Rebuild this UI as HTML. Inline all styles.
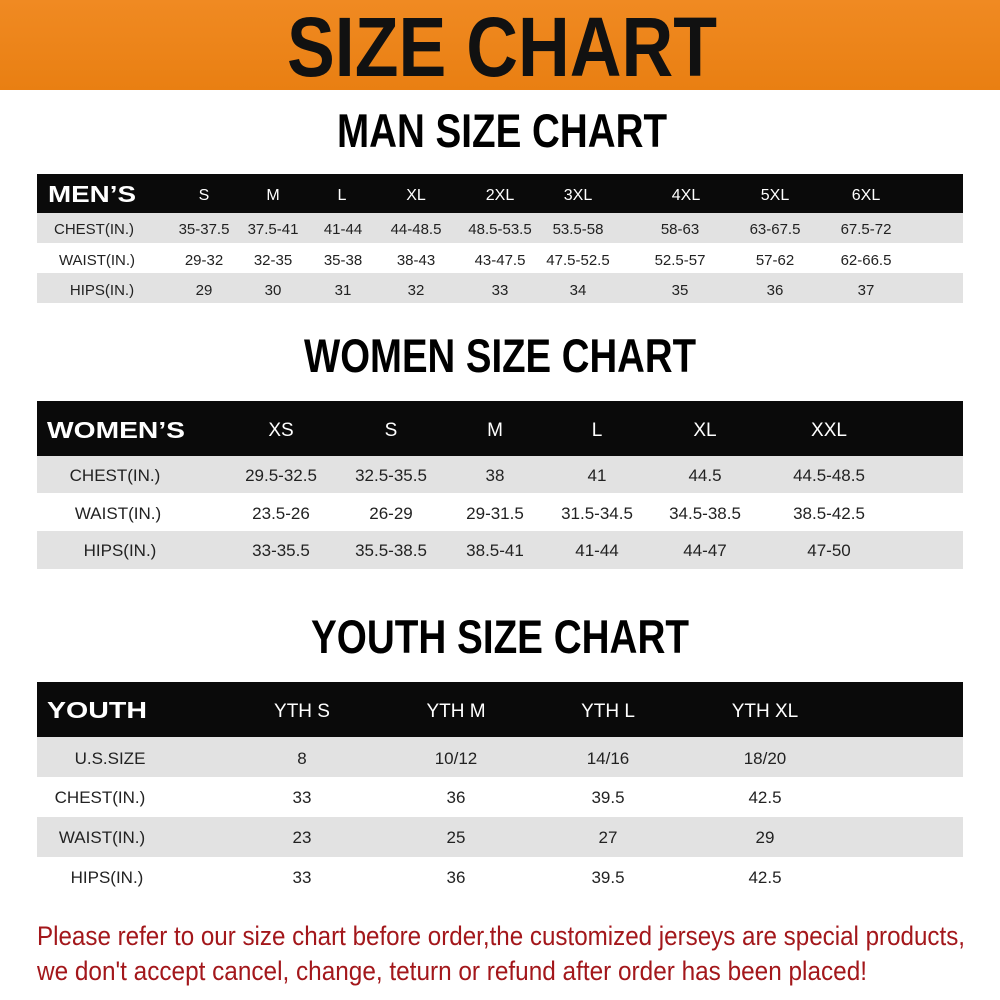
<!DOCTYPE html>
<html><head><meta charset="utf-8"><style>
html,body{margin:0;padding:0;background:#fff;}
svg{display:block;}
text{font-family:"Liberation Sans",sans-serif;}
</style></head><body>
<svg width="1000" height="1000" viewBox="0 0 1000 1000" xmlns="http://www.w3.org/2000/svg">
<defs><linearGradient id="og" x1="0" y1="0" x2="0" y2="1"><stop offset="0" stop-color="#f08a22"/><stop offset="1" stop-color="#e97f12"/></linearGradient></defs>
<rect x="0" y="0" width="1000" height="90" fill="url(#og)"/>
<text x="502" y="76" font-size="84" font-weight="bold" text-anchor="middle" textLength="430" lengthAdjust="spacingAndGlyphs" fill="#111">SIZE CHART</text>
<text x="502" y="147" font-size="47" font-weight="bold" text-anchor="middle" textLength="330" lengthAdjust="spacingAndGlyphs" fill="#000">MAN SIZE CHART</text>

<!-- Men -->
<rect x="37" y="174" width="926" height="39" fill="#0a0a0a"/>
<rect x="37" y="213" width="926" height="30" fill="#e2e2e2"/>
<rect x="37" y="273" width="926" height="30" fill="#e2e2e2"/>
<g font-size="15" fill="#222" text-anchor="middle">
<text x="92" y="202" font-size="23" font-weight="bold" fill="#fff" textLength="88" lengthAdjust="spacingAndGlyphs">MEN’S</text>
<g fill="#fff" font-size="16">
<text x="204" y="200">S</text><text x="273" y="200">M</text><text x="342" y="200">L</text><text x="416" y="200">XL</text><text x="500" y="200">2XL</text><text x="578" y="200">3XL</text><text x="686" y="200">4XL</text><text x="775" y="200">5XL</text><text x="866" y="200">6XL</text>
</g>
<text x="94" y="234">CHEST(IN.)</text><text x="97" y="265">WAIST(IN.)</text><text x="102" y="295">HIPS(IN.)</text>
<text x="204" y="234">35-37.5</text><text x="273" y="234">37.5-41</text><text x="343" y="234">41-44</text><text x="416" y="234">44-48.5</text><text x="500" y="234">48.5-53.5</text><text x="578" y="234">53.5-58</text><text x="680" y="234">58-63</text><text x="775" y="234">63-67.5</text><text x="866" y="234">67.5-72</text>
<text x="204" y="265">29-32</text><text x="273" y="265">32-35</text><text x="343" y="265">35-38</text><text x="416" y="265">38-43</text><text x="500" y="265">43-47.5</text><text x="578" y="265">47.5-52.5</text><text x="680" y="265">52.5-57</text><text x="775" y="265">57-62</text><text x="866" y="265">62-66.5</text>
<text x="204" y="295">29</text><text x="273" y="295">30</text><text x="343" y="295">31</text><text x="416" y="295">32</text><text x="500" y="295">33</text><text x="578" y="295">34</text><text x="680" y="295">35</text><text x="775" y="295">36</text><text x="866" y="295">37</text>
</g>

<text x="500" y="372" font-size="47" font-weight="bold" text-anchor="middle" textLength="392" lengthAdjust="spacingAndGlyphs" fill="#000">WOMEN SIZE CHART</text>
<rect x="37" y="401" width="926" height="55" fill="#0a0a0a"/>
<rect x="37" y="456" width="926" height="37" fill="#e2e2e2"/>
<rect x="37" y="531" width="926" height="38" fill="#e2e2e2"/>
<g font-size="17" fill="#222" text-anchor="middle">
<text x="116" y="438" font-size="23" font-weight="bold" fill="#fff" textLength="138" lengthAdjust="spacingAndGlyphs">WOMEN’S</text>
<g fill="#fff" font-size="19">
<text x="281" y="436">XS</text><text x="391" y="436">S</text><text x="495" y="436">M</text><text x="597" y="436">L</text><text x="705" y="436">XL</text><text x="829" y="436">XXL</text>
</g>
<text x="115" y="481">CHEST(IN.)</text><text x="118" y="519">WAIST(IN.)</text><text x="120" y="556">HIPS(IN.)</text>
<text x="281" y="481">29.5-32.5</text><text x="391" y="481">32.5-35.5</text><text x="495" y="481">38</text><text x="597" y="481">41</text><text x="705" y="481">44.5</text><text x="829" y="481">44.5-48.5</text>
<text x="281" y="519">23.5-26</text><text x="391" y="519">26-29</text><text x="495" y="519">29-31.5</text><text x="597" y="519">31.5-34.5</text><text x="705" y="519">34.5-38.5</text><text x="829" y="519">38.5-42.5</text>
<text x="281" y="556">33-35.5</text><text x="391" y="556">35.5-38.5</text><text x="495" y="556">38.5-41</text><text x="597" y="556">41-44</text><text x="705" y="556">44-47</text><text x="829" y="556">47-50</text>
</g>

<text x="500" y="653" font-size="47" font-weight="bold" text-anchor="middle" textLength="378" lengthAdjust="spacingAndGlyphs" fill="#000">YOUTH SIZE CHART</text>
<rect x="37" y="682" width="926" height="55" fill="#0a0a0a"/>
<rect x="37" y="737" width="926" height="40" fill="#e2e2e2"/>
<rect x="37" y="817" width="926" height="40" fill="#e2e2e2"/>
<g font-size="17" fill="#222" text-anchor="middle">
<text x="97" y="718" font-size="23" font-weight="bold" fill="#fff" textLength="100" lengthAdjust="spacingAndGlyphs">YOUTH</text>
<g fill="#fff" font-size="19">
<text x="302" y="717">YTH S</text><text x="456" y="717">YTH M</text><text x="608" y="717">YTH L</text><text x="765" y="717">YTH XL</text>
</g>
<text x="110" y="764">U.S.SIZE</text><text x="100" y="803">CHEST(IN.)</text><text x="102" y="843">WAIST(IN.)</text><text x="107" y="883">HIPS(IN.)</text>
<text x="302" y="764">8</text><text x="456" y="764">10/12</text><text x="608" y="764">14/16</text><text x="765" y="764">18/20</text>
<text x="302" y="803">33</text><text x="456" y="803">36</text><text x="608" y="803">39.5</text><text x="765" y="803">42.5</text>
<text x="302" y="843">23</text><text x="456" y="843">25</text><text x="608" y="843">27</text><text x="765" y="843">29</text>
<text x="302" y="883">33</text><text x="456" y="883">36</text><text x="608" y="883">39.5</text><text x="765" y="883">42.5</text>
</g>

<text x="37" y="945" font-size="27" fill="#a3171b" textLength="928" lengthAdjust="spacingAndGlyphs">Please refer to our size chart before order,the customized jerseys are special products,</text>
<text x="37" y="980" font-size="27" fill="#a3171b" textLength="830" lengthAdjust="spacingAndGlyphs">we don't accept cancel, change, teturn or refund after order has been placed!</text>
</svg>
</body></html>
